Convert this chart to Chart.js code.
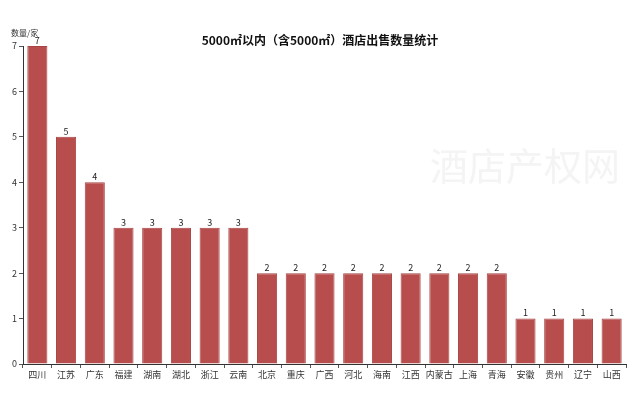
<!DOCTYPE html>
<html><head><meta charset="utf-8">
<script src="https://cdn.jsdelivr.net/npm/chart.js@4/dist/chart.umd.min.js"></script>
<style>html,body{margin:0;padding:0;background:#fff;}#wrap{width:640px;height:395px;position:relative;}</style>
</head><body><div id="wrap"><canvas id="c" width="640" height="395"></canvas></div>
<script>
const categories = ['四川','江苏','广东','福建','湖南','湖北','浙江','云南','北京','重庆','广西','河北','海南','江西','内蒙古','上海','青海','安徽','贵州','辽宁','山西'];
const counts = [7,5,4,3,3,3,3,3,2,2,2,2,2,2,2,2,2,1,1,1,1];
const yTicks = [0,1,2,3,4,5,6,7];
const titleText = '5000㎡以内（含5000㎡）酒店出售数量统计';
const yAxisLabel = '数量/家';
const watermark = '酒店产权网';
const FONT = '"Noto Sans CJK SC", "Noto Sans", sans-serif';

const deco = {
  id: 'deco',
  beforeDatasetsDraw(chart) {
    const ctx = chart.ctx;
    ctx.save();
    ctx.font = '38px ' + FONT;
    ctx.fillStyle = 'rgba(244,244,244,1)';
    ctx.textAlign = 'center';
    ctx.textBaseline = 'middle';
    ctx.fillText(watermark, 525, 166);
    ctx.restore();
  },
  afterDatasetsDraw(chart) {
    const ctx = chart.ctx;
    ctx.save();
    ctx.font = 'bold 12px ' + FONT;
    ctx.fillStyle = '#111';
    ctx.textAlign = 'center';
    ctx.textBaseline = 'middle';
    ctx.fillText(titleText, 320, 40);
    ctx.font = '8px ' + FONT;
    ctx.fillStyle = '#333';
    ctx.textAlign = 'left';
    ctx.fillText(yAxisLabel, 11, 33);
    const meta = chart.getDatasetMeta(0);
    ctx.textAlign = 'center';
    ctx.textBaseline = 'bottom';
    ctx.font = '9px ' + FONT;
    ctx.fillStyle = '#222';
    meta.data.forEach((bar, i) => {
      ctx.fillText(String(counts[i]), bar.x, bar.y - 1);
    });
    ctx.restore();
  }
};

new Chart(document.getElementById('c'), {
  type: 'bar',
  data: { labels: categories, datasets: [{ data: counts, backgroundColor: '#b84d4d', borderColor: '#a84444', borderWidth: 1, barPercentage: 0.7, categoryPercentage: 1.0 }] },
  options: {
    responsive: false, animation: false,
    layout: { padding: { top: 46, right: 14, bottom: 0, left: 0 } },
    plugins: { legend: { display: false }, tooltip: { enabled: false } },
    scales: {
      x: {
        offset: true,
        grid: { display: true, offset: true, drawOnChartArea: false, drawTicks: true, tickLength: 4, color: '#555' },
        border: { display: true, color: '#333', width: 1 },
        ticks: { color: '#333', font: { size: 9, family: FONT }, maxRotation: 0, autoSkip: false, padding: 1 },
        afterFit(s) { s.height = 31; }
      },
      y: {
        min: 0, max: 7,
        grid: { display: true, drawOnChartArea: false, drawTicks: true, tickLength: 4, color: '#555' },
        border: { display: true, color: '#333', width: 1 },
        ticks: { stepSize: 1, color: '#333', font: { size: 9, family: FONT }, padding: 2,
          callback: (v) => yTicks.includes(v) ? String(v) : '' },
        afterFit(s) { s.width = 23; }
      }
    }
  },
  plugins: [deco]
});
</script></body></html>
